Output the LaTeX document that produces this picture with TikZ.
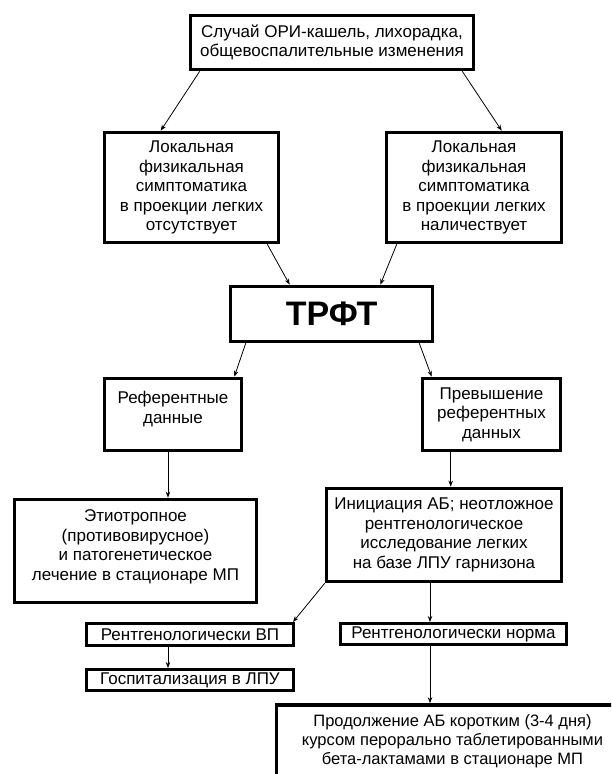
\documentclass[tikz,border=0pt]{standalone}
\usepackage{fontspec}
\setmainfont{Liberation Sans}
\usetikzlibrary{arrows.meta,calc}
\begin{document}
\begin{tikzpicture}[x=1pt,y=-1pt,
  box/.style={draw, line width=3.6pt, align=center, inner sep=0pt,
    font=\fontsize{17}{19.5}\selectfont},
  sbox/.style={box, line width=3pt},
  arr/.style={-{Stealth[length=6pt,width=4.5pt]}, line width=0.8pt}]
\useasboundingbox (0,0) rectangle (611,774);
\fill[white] (0,0) rectangle (611,774);
\clip (0,0) rectangle (611,774);

\node[box, minimum width=283, minimum height=54] (top) at (332,42.5)
  {Случай ОРИ-кашель, лихорадка,\\общевоспалительные изменения};
\node[box, minimum width=174, minimum height=110] (lb) at (191.5,187.5)
  {Локальная\\физикальная\\симптоматика\\в проекции легких\\отсутствует};
\node[box, minimum width=175, minimum height=110] (rb) at (474,187.5)
  {Локальная\\физикальная\\симптоматика\\в проекции легких\\наличествует};
\node[box, minimum width=202, minimum height=55, font=\fontsize{34}{40}\selectfont\bfseries] (trft) at (331.5,314) {ТРФТ};
\node[box, minimum width=137, minimum height=72, text depth=14pt] (ref) at (173,414.5)
  {Референтные\\данные};
\node[box, minimum width=138, minimum height=72] (prev) at (491.5,414.5)
  {Превышение\\референтных\\данных};
\node[box, minimum width=242, minimum height=103, text depth=12pt] (etio) at (135.5,551)
  {Этиотропное\\(противовирусное)\\и патогенетическое\\лечение в стационаре МП};
\node[box, minimum width=235, minimum height=93] (init) at (444,535)
  {Инициация АБ; неотложное\\рентгенологическое\\исследование легких\\на базе ЛПУ гарнизона};
\node[sbox, minimum width=207, minimum height=22] (vp) at (190,634.5)
  {Рентгенологически ВП};
\node[sbox, minimum width=207, minimum height=21] (hosp) at (190,680)
  {Госпитализация в ЛПУ};
\node[sbox, minimum width=226, minimum height=21] (norm) at (453.5,634)
  {Рентгенологически норма};
\node[box, minimum width=352, minimum height=72, font=\fontsize{16.5}{19}\selectfont] (final) at (452.5,741)
  {Продолжение АБ коротким (3-4 дня)\\курсом перорально таблетированными\\бета-лактамами в стационаре МП};

\draw[arr] ([xshift=11pt]top.south west) -- ([xshift=58pt]lb.north west);
\draw[arr] ([xshift=-13pt]top.south east) -- ([xshift=117pt]rb.north west);
\draw[arr] ([xshift=-13pt]lb.south east) -- ([xshift=61pt]trft.north west);
\draw[arr] ([xshift=12pt]rb.south west) -- ([xshift=-54pt]trft.north east);
\draw[arr] ([xshift=17pt]trft.south west) -- ([xshift=-9pt]ref.north east);
\draw[arr] ([xshift=-15pt]trft.south east) -- ([xshift=11pt]prev.north west);
\coordinate (c1) at ([xshift=-5pt]ref.south);
\draw[arr] (c1) -- (c1 |- etio.north);
\coordinate (c2) at ([xshift=30pt]prev.south west);
\draw[arr] (c2) -- (c2 |- init.north);
\draw[arr] (init.south west) -- ([xshift=-2pt]vp.north east);
\coordinate (c3) at ([xshift=-14pt]init.south);
\draw[arr] (c3) -- (c3 |- norm.north);
\coordinate (c4) at ([xshift=-22pt]vp.south);
\draw[arr] (c4) -- (c4 |- hosp.north);
\coordinate (c5) at ([xshift=-23.5pt]norm.south);
\draw[arr] (c5) -- (c5 |- final.north);
\end{tikzpicture}
\end{document}
